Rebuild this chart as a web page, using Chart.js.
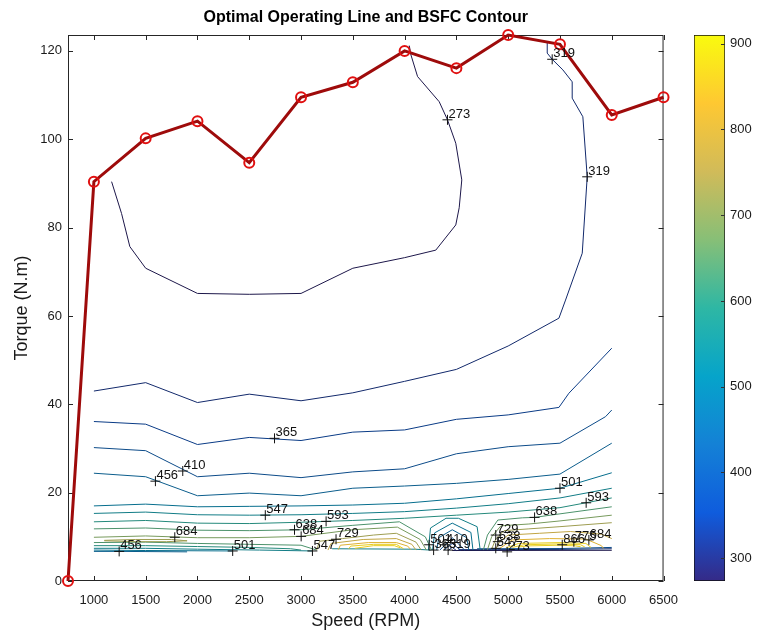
<!DOCTYPE html>
<html>
<head>
<meta charset="utf-8">
<script src="https://cdn.jsdelivr.net/npm/chart.js@4.4.1/dist/chart.umd.min.js"></script>
<style>
  html, body { margin: 0; padding: 0; background: #fff; }
  #wrap { position: relative; width: 758px; height: 637px; }
  #mainBox { position: absolute; left: 0; top: 0; }
  #barBox { position: absolute; left: 690px; top: 0; }
</style>
</head>
<body>
<div id="wrap">
  <div id="mainBox"><canvas id="bsfcChart" width="690" height="637"></canvas></div>
  <div id="barBox"><canvas id="colorBar" width="68" height="637"></canvas></div>
</div>
<script>
// Optimal operating line (speed in RPM, torque in N.m)
const opSpeed = [750, 1000, 1500, 2000, 2500, 3000, 3500, 4000, 4500, 5000, 5500, 6000, 6500];
const opTorque = [0, 90.4, 100.2, 104.1, 94.7, 109.5, 112.9, 120.0, 116.1, 123.6, 121.5, 105.5, 109.5];

// Axis ticks
const speedTicks = [1000, 1500, 2000, 2500, 3000, 3500, 4000, 4500, 5000, 5500, 6000, 6500];
const torqueTicks = [0, 20, 40, 60, 80, 100, 120];
const barTicks = [300, 400, 500, 600, 700, 800, 900];
const cMin = 273.5;
const cMax = 910;

// BSFC contour lines, [rpm, torque] pairs
const bsfc273 = [[4045,121.2],[4061,119.1],[4125,114.2],[4334,108.5],[4414,104.4],[4494,99.1],[4552,90.8],[4527,84.5],[4494,80.6],[4301,74.9],[4000,73.2],[3500,70.8],[3000,65.1],[2500,64.9],[2000,65.1],[1500,70.8],[1347,75.7],[1267,83.2],[1171,90.4]];
const bsfc319 = [[1000,43.0],[1500,44.9],[2000,40.4],[2500,42.3],[3000,40.8],[3500,42.6],[4000,45.2],[4500,47.9],[5000,53.2],[5490,59.5],[5554,63.6],[5715,74.2],[5763,91.5],[5721,105.1],[5618,109.3],[5618,113.0],[5528,115.7],[5425,118.1],[5377,119.5],[5377,121.8]];
const bsfc365 = [[1000,36.1],[1500,35.5],[2000,30.9],[2500,32.5],[3000,31.8],[3500,33.7],[4000,34.2],[4500,36.6],[5000,37.6],[5490,39.3],[5586,42.5],[6000,52.7]];
const bsfc410 = [[1000,30.2],[1500,29.5],[2000,23.6],[2500,24.4],[3000,23.4],[3500,24.7],[4000,25.4],[4500,28.8],[5000,30.4],[5500,31.2],[5940,37.2],[6000,38.7]];
const bsfc456 = [[1000,24.4],[1500,23.6],[2000,19.3],[2500,19.9],[3000,19.3],[3500,21.0],[4000,21.5],[4500,22.1],[5000,23.0],[5500,24.2],[6000,31.2]];
const bsfc501 = [[1000,17.0],[1500,17.4],[2000,16.8],[2500,16.9],[3000,17.0],[3500,17.2],[4000,17.6],[4500,18.6],[5000,19.8],[5500,21.0],[6000,24.5]];
const bsfc547 = [[1000,15.3],[1500,15.6],[2000,15.0],[2500,14.9],[3000,15.0],[3500,15.3],[4000,15.7],[4500,16.5],[5000,17.5],[5500,18.8],[6000,21.0]];
const bsfc593 = [[1000,13.4],[1500,13.7],[2000,13.1],[2500,13.0],[3000,13.3],[3500,13.7],[4000,14.2],[4500,14.9],[5000,15.6],[5500,16.6],[6000,18.8]];

// low torque band, left lobe
const bsfc638a = [[1000,11.8],[1500,12.0],[2000,11.5],[2500,11.4],[3000,11.6],[3500,12.6],[3950,13.4],[4200,10.0],[4260,7.0]];
const bsfc684a = [[1000,9.9],[1500,10.2],[2000,9.8],[2500,9.8],[3000,10.1],[3500,11.6],[3930,12.2],[4150,9.4],[4210,7.0]];
const bsfc729l = [[1100,9.2],[1400,9.4],[1750,9.4],[1900,9.1],[1700,8.9],[1400,8.9],[1100,9.1]];
const bsfc729a = [[3150,7.0],[3180,9.0],[3400,9.6],[3700,10.4],[3920,10.8],[4110,8.8],[4160,7.0]];
const bsfc775a = [[3260,7.0],[3290,8.5],[3600,9.4],[3920,9.6],[4070,8.3],[4110,7.0]];
const bsfc820a = [[3360,7.1],[3380,8.1],[3650,8.7],[3920,8.7],[4030,7.9],[4060,7.1]];
const bsfc866a = [[3460,7.3],[3480,7.9],[3700,8.3],[3920,8.3],[3990,7.3]];
const bsfc866c = [[3520,7.4],[3700,8.0],[3900,8.0],[3960,7.5]];
const bsfc638b = [[1000,8.7],[1500,8.8],[2000,8.5],[2500,8.3],[3000,8.1],[3150,7.0]];
const bsfc593b = [[1000,8.0],[1500,8.0],[2000,7.8],[2500,7.6],[2900,7.3],[3000,7.0]];
const bsfc547b = [[1000,7.4],[1500,7.4],[2000,7.2],[2600,7.0],[3110,6.8]];
const bsfc501b = [[1000,7.0],[1500,6.9],[2340,6.8]];
const bsfc456b = [[1000,6.7],[1244,6.7],[1900,6.6]];

// low torque band, dip between the lobes
const bsfc547t = [[4230,7.0],[4250,12.0],[4400,14.2],[4520,14.2],[4700,12.3],[4730,7.0]];
const bsfc501t = [[4270,7.0],[4290,10.9],[4460,13.1],[4640,11.0],[4660,7.0]];
const bsfc456t = [[4310,7.0],[4330,9.8],[4460,11.6],[4600,9.8],[4620,7.0]];
const bsfc410t = [[4340,7.0],[4460,9.8],[4580,7.0]];
const bsfc365t = [[4380,7.0],[4460,8.5],[4540,7.0]];
const bsfc319t = [[4420,6.9],[4460,7.6],[4500,6.9]];

// low torque band, right lobe
const bsfc638w = [[4760,7.0],[4800,10.4],[4900,13.8],[5136,14.3],[5255,14.4],[5500,15.2],[6000,16.8]];
const bsfc684w = [[4800,7.1],[4840,10.0],[4930,12.5],[5200,12.9],[5500,13.6],[6000,14.9]];
const bsfc729w = [[4840,7.2],[4880,9.5],[4960,11.4],[5200,11.8],[5500,12.3],[6000,13.2]];
const bsfc775w = [[4880,7.3],[4920,9.0],[5000,10.4],[5300,10.8],[5600,11.2],[5900,10.6],[6000,9.6]];
const bsfc820w = [[4920,7.4],[5040,9.3],[5400,9.6],[5750,9.5],[5900,8.0],[5920,7.4]];
const bsfc866w = [[4980,7.5],[5100,8.5],[5500,8.7],[5750,8.5],[5800,7.6]];
const bsfc866x = [[5040,7.6],[5150,8.2],[5500,8.4],[5700,8.2],[5740,7.7]];
const bsfc866y = [[5100,7.7],[5200,7.95],[5500,8.1],[5650,7.95],[5700,7.75]];
const bsfc547w = [[3300,7.3],[4100,7.2],[4250,7.0]];
const bsfc410w = [[4700,7.3],[5500,7.35],[6000,7.6]];
const bsfc319w = [[4520,7.1],[4900,7.1],[5500,7.15],[6000,7.3]];
const bsfc273w = [[4460,6.9],[6000,6.95]];

const contourLines = [
  [273, bsfc273], [319, bsfc319], [365, bsfc365], [410, bsfc410], [456, bsfc456],
  [501, bsfc501], [547, bsfc547], [593, bsfc593],
  [638, bsfc638a], [684, bsfc684a], [729, bsfc729l], [729, bsfc729a], [775, bsfc775a],
  [820, bsfc820a], [866, bsfc866a], [866, bsfc866c], [638, bsfc638b], [593, bsfc593b], [547, bsfc547b],
  [501, bsfc501b], [456, bsfc456b],
  [547, bsfc547t], [501, bsfc501t], [456, bsfc456t], [410, bsfc410t], [365, bsfc365t], [319, bsfc319t],
  [638, bsfc638w], [684, bsfc684w], [729, bsfc729w], [775, bsfc775w], [820, bsfc820w], [866, bsfc866w],
  [866, bsfc866x], [866, bsfc866y],
  [547, bsfc547w], [410, bsfc410w], [319, bsfc319w], [273, bsfc273w]
];

// contour labels (text, rpm, torque of the + marker)
const labelText = ['273', '319', '319', '365', '410', '456', '501', '593', '638', '547', '593', '638', '684', '684', '729',
  '456', '501', '547', '501', '410', '365', '319', '729', '638', '547', '273', '866', '775', '684'];
const labelRpm = [4414, 5763, 5425, 2744, 1858, 1594, 5500, 5753, 5255, 2655, 3242, 2937, 3001, 1781, 3338,
  1244, 2340, 3110, 4237, 4390, 4280, 4420, 4880, 4900, 4880, 4990, 5522, 5634, 5779];
const labelNm = [104.4, 91.5, 118.1, 32.3, 24.9, 22.6, 21.0, 17.7, 14.4, 14.9, 13.5, 11.6, 10.1, 9.9, 9.45,
  6.7, 6.8, 6.8, 8.2, 8.2, 7.0, 7.0, 10.4, 8.9, 7.4, 6.6, 8.2, 8.9, 9.3];

// parula-like colormap
const parulaStops = ["#352a87", "#0f5cdd", "#1481d6", "#06a4ca", "#2eb7a4", "#87bf77", "#d1bb59", "#fec832", "#f9fb0e"];

function hexToRgb(h) {
  return [parseInt(h.slice(1, 3), 16), parseInt(h.slice(3, 5), 16), parseInt(h.slice(5, 7), 16)];
}

function parulaRgb(value) {
  let t = (value - cMin) / (cMax - cMin);
  t = Math.max(0, Math.min(1, t));
  const s = t * (parulaStops.length - 1);
  const i = Math.min(Math.floor(s), parulaStops.length - 2);
  const f = s - i;
  const a = hexToRgb(parulaStops[i]);
  const b = hexToRgb(parulaStops[i + 1]);
  return a.map((v, k) => v + (b[k] - v) * f);
}

// thin contour lines look darker than the colour bar in the original
function lineColor(value) {
  const t = Math.max(0, Math.min(1, (value - cMin) / (cMax - cMin)));
  const k = 0.55 + 0.4 * t;
  const c = parulaRgb(value).map((v) => Math.round(v * k));
  return `rgb(${c[0]}, ${c[1]}, ${c[2]})`;
}

Chart.defaults.font.family = "'Liberation Sans', Arial, sans-serif";
Chart.defaults.color = "#1a1a1a";

// Box, inward ticks and contour label text
const matlabFrame = {
  id: "matlabFrame",
  beforeDatasetsDraw(chart) {
    const { ctx, chartArea: a, scales } = chart;
    const len = 5;
    ctx.save();
    ctx.strokeStyle = "#262626";
    ctx.lineWidth = 1;
    ctx.beginPath();
    speedTicks.forEach((v) => {
      const px = Math.round(scales.x.getPixelForValue(v)) + 0.5;
      ctx.moveTo(px, a.bottom);
      ctx.lineTo(px, a.bottom - len);
      ctx.moveTo(px, a.top);
      ctx.lineTo(px, a.top + len);
    });
    torqueTicks.forEach((v) => {
      const py = Math.round(scales.y.getPixelForValue(v)) + 0.5;
      ctx.moveTo(a.left, py);
      ctx.lineTo(a.left + len, py);
      ctx.moveTo(a.right, py);
      ctx.lineTo(a.right - len, py);
    });
    ctx.stroke();
    ctx.strokeRect(a.left + 0.5, a.top + 0.5, a.width - 1, a.height - 1);
    ctx.restore();
  },
  afterDatasetsDraw(chart) {
    const { ctx, scales } = chart;
    ctx.save();
    ctx.fillStyle = "#111";
    ctx.font = "13px 'Liberation Sans', Arial, sans-serif";
    ctx.textAlign = "left";
    ctx.textBaseline = "alphabetic";
    labelText.forEach((t, i) => {
      const px = scales.x.getPixelForValue(labelRpm[i]);
      const py = scales.y.getPixelForValue(labelNm[i]);
      ctx.fillText(t, px + 1, py - 2);
    });
    ctx.restore();
  },
};

const datasets = [];

datasets.push({
  label: "Optimal operating line",
  data: opSpeed.map((s, i) => ({ x: s, y: opTorque[i] })),
  borderColor: "#9e0b0b",
  borderWidth: 3,
  pointStyle: "circle",
  pointRadius: 5,
  pointBorderColor: "#e01010",
  pointBorderWidth: 2,
  pointBackgroundColor: "rgba(0,0,0,0)",
  tension: 0,
  clip: false,
});

datasets.push({
  label: "Contour labels",
  data: labelRpm.map((s, i) => ({ x: s, y: labelNm[i] })),
  showLine: false,
  pointStyle: "cross",
  pointRadius: 5,
  pointBorderColor: "#111",
  pointBorderWidth: 1,
  clip: false,
});

contourLines.forEach(([level, pts]) => {
  datasets.push({
    label: "BSFC " + level,
    data: pts.map((p) => ({ x: p[0], y: p[1] })),
    borderColor: lineColor(level),
    borderWidth: 1,
    pointRadius: 0,
    tension: 0,
    fill: false,
  });
});

new Chart(document.getElementById("bsfcChart"), {
  type: "line",
  data: { datasets },
  options: {
    responsive: false,
    animation: false,
    devicePixelRatio: 1,
    layout: { padding: { left: 0, right: 25, top: 0, bottom: 0 } },
    plugins: {
      legend: { display: false },
      tooltip: { enabled: false },
      title: {
        display: true,
        text: "Optimal Operating Line and BSFC Contour",
        fullSize: false,
        color: "#000",
        font: { size: 16, weight: "bold" },
        padding: { top: 8.4, bottom: 7.4 },
      },
    },
    scales: {
      x: {
        type: "linear",
        min: 750,
        max: 6500,
        grid: { display: false, drawTicks: false },
        border: { display: false },
        afterBuildTicks: (scale) => {
          scale.ticks = speedTicks.map((v) => ({ value: v }));
        },
        afterFit: (scale) => {
          scale.height = 56;
        },
        ticks: { font: { size: 13 }, padding: 12, maxRotation: 0, autoSkip: false, callback: (v) => String(v) },
        title: { display: true, text: "Speed (RPM)", font: { size: 18 }, padding: { top: 0, bottom: 5 } },
      },
      y: {
        type: "linear",
        min: 0,
        max: 123.6,
        grid: { display: false, drawTicks: false },
        border: { display: false },
        afterBuildTicks: (scale) => {
          scale.ticks = torqueTicks.map((v) => ({ value: v }));
        },
        afterFit: (scale) => {
          scale.width = 68;
        },
        ticks: { font: { size: 13 }, padding: 6, callback: (v) => String(v) },
        title: { display: true, text: "Torque (N.m)", font: { size: 18 }, padding: { top: 11, bottom: 0 } },
      },
    },
  },
  plugins: [matlabFrame],
});

// Colour bar
const barTickMarks = {
  id: "barTickMarks",
  afterDatasetsDraw(chart) {
    const { ctx, chartArea: a, scales } = chart;
    ctx.save();
    ctx.strokeStyle = "#333";
    ctx.lineWidth = 1;
    ctx.beginPath();
    barTicks.forEach((v) => {
      const py = Math.round(scales.y.getPixelForValue(v)) + 0.5;
      ctx.moveTo(a.right, py);
      ctx.lineTo(a.right - 4, py);
    });
    ctx.stroke();
    ctx.restore();
  },
};

new Chart(document.getElementById("colorBar"), {
  type: "bar",
  data: {
    labels: ["BSFC"],
    datasets: [
      {
        data: [[cMin, cMax]],
        backgroundColor: (c) => {
          const { ctx, chartArea } = c.chart;
          if (!chartArea) return "#888";
          const g = ctx.createLinearGradient(0, chartArea.bottom, 0, chartArea.top);
          parulaStops.forEach((col, i) => g.addColorStop(i / (parulaStops.length - 1), col));
          return g;
        },
        borderColor: "#111",
        borderWidth: 1,
        borderSkipped: false,
        barPercentage: 1,
        categoryPercentage: 1,
      },
    ],
  },
  options: {
    responsive: false,
    animation: false,
    devicePixelRatio: 1,
    layout: { padding: { left: 4, right: 0, top: 35, bottom: 56 } },
    plugins: { legend: { display: false }, tooltip: { enabled: false } },
    scales: {
      x: { display: false },
      y: {
        position: "right",
        min: cMin,
        max: cMax,
        grid: { display: false, drawTicks: false },
        border: { display: false },
        afterBuildTicks: (scale) => {
          scale.ticks = barTicks.map((v) => ({ value: v }));
        },
        afterFit: (scale) => {
          scale.width = 33;
        },
        ticks: { font: { size: 13 }, padding: 5 },
      },
    },
  },
  plugins: [barTickMarks],
});
</script>
</body>
</html>
